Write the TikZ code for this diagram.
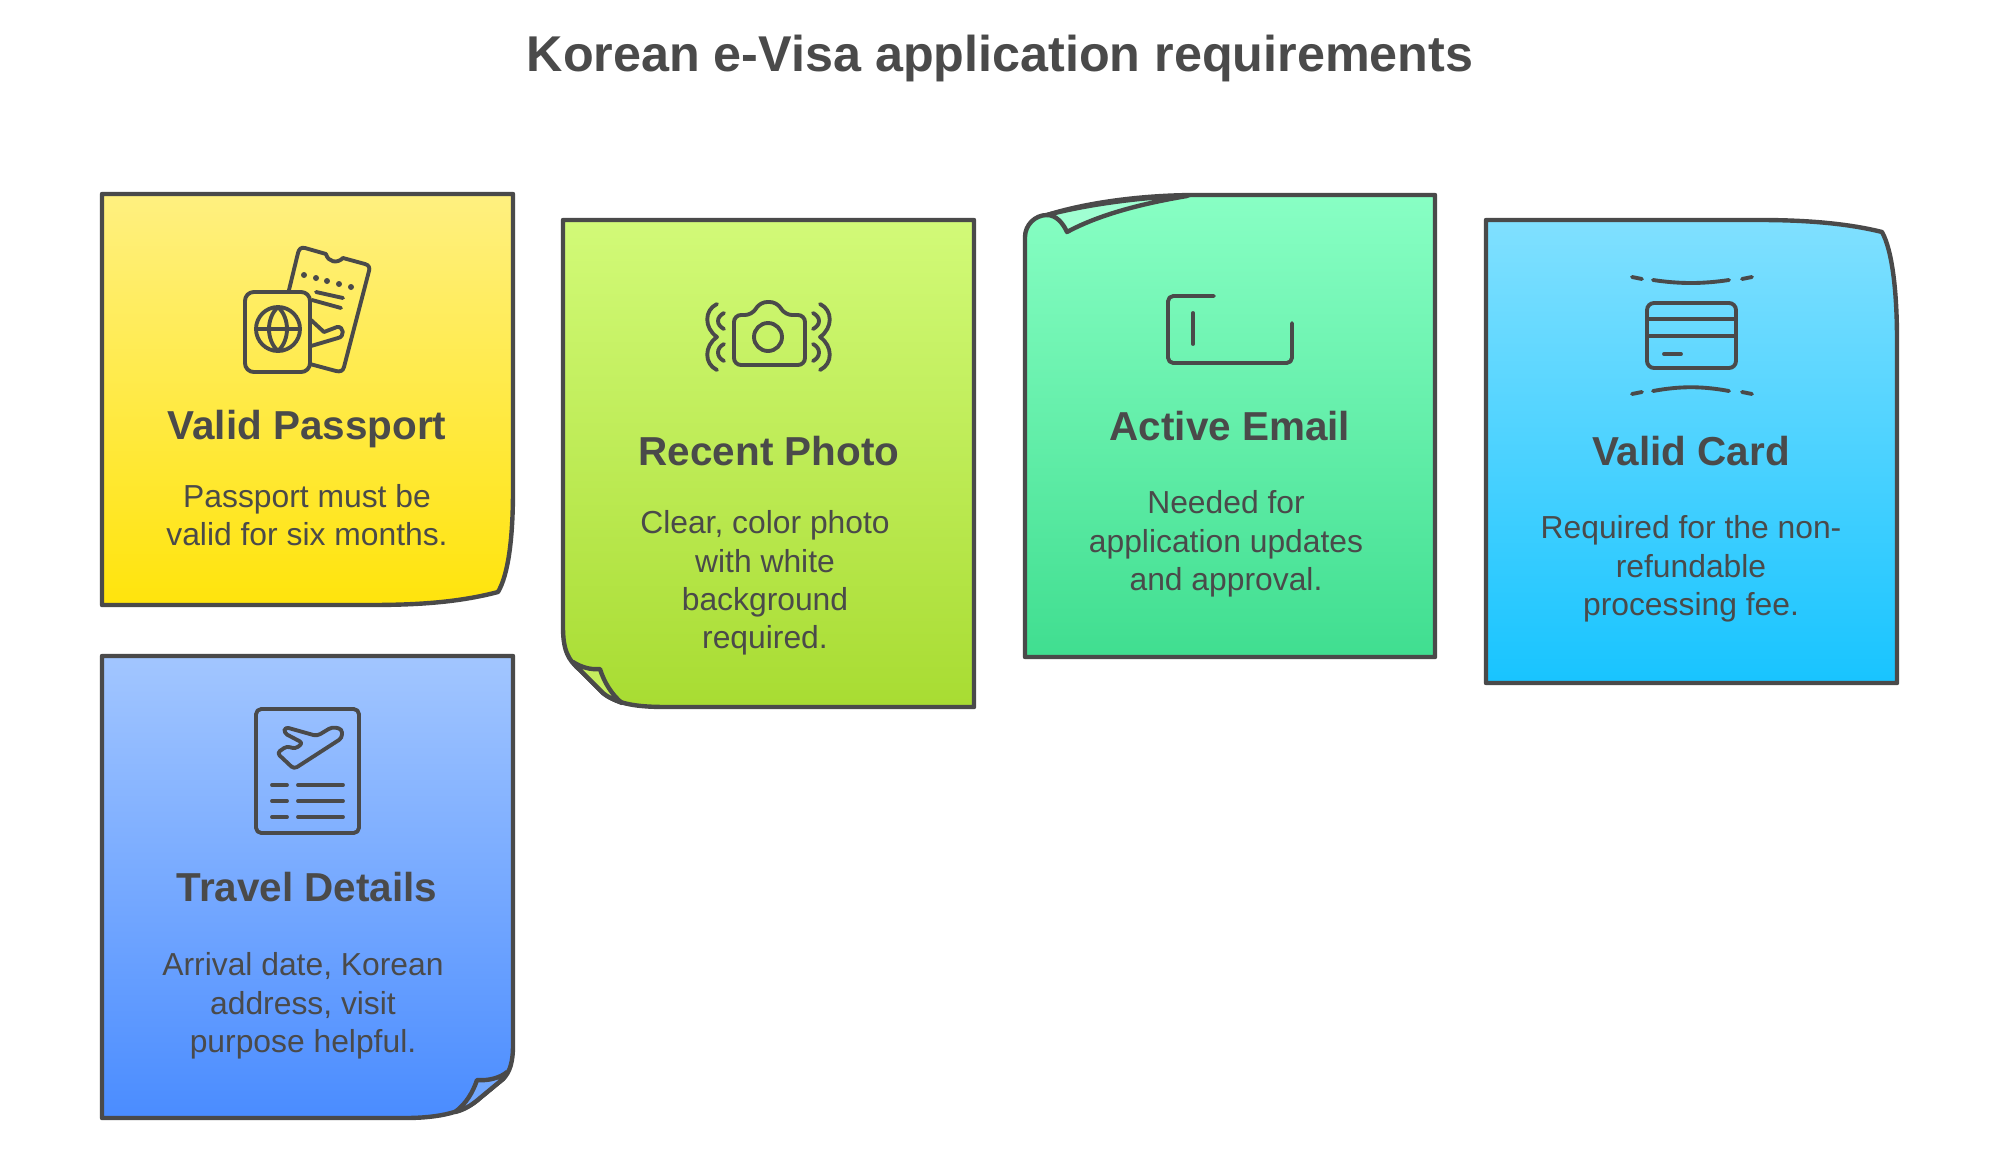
\documentclass[tikz,border=0pt]{standalone}
\usepackage{xcolor}
\usepackage{fontspec}
\setmainfont{Liberation Sans}
\usetikzlibrary{positioning}
\definecolor{inkgray}{HTML}{4A4A4A}
\definecolor{passtop}{HTML}{FFF080}
\definecolor{passbot}{HTML}{FFE40C}
\definecolor{phototop}{HTML}{D2FA78}
\definecolor{photobot}{HTML}{A8DC32}
\definecolor{photofold}{HTML}{C6EE5E}
\definecolor{mailtop}{HTML}{88FFC4}
\definecolor{mailbot}{HTML}{40DE90}
\definecolor{mailfold}{HTML}{A0FFD2}
\definecolor{cardtop}{HTML}{80E0FF}
\definecolor{cardbot}{HTML}{18C4FF}
\definecolor{traveltop}{HTML}{A2C6FF}
\definecolor{travelbot}{HTML}{4A8CFF}
\definecolor{travelfold}{HTML}{72A8FF}
\tikzset{
    cardline/.style={draw=inkgray, line width=1.25pt, line join=round},
    iconline/.style={draw=inkgray, line width=1.1pt, line cap=round, line join=round},
    titletext/.style={text=inkgray, font=\fontsize{14.3}{17}\selectfont\bfseries},
    headtext/.style={text=inkgray, anchor=base, font=\fontsize{11.5}{13}\selectfont\bfseries},
    bodytext/.style={text=inkgray, align=center, font=\fontsize{9.05}{10.9}\selectfont},
}
\begin{document}
\begin{tikzpicture}[x=0.01cm, y=-0.01cm]
            \path[fill=white, use as bounding box] (0,0) rectangle (1999,1166);
            \node[titletext] at (1000,58) (title) {Korean e-Visa application requirements};

            % passport
            \draw[cardline, top color=passtop, bottom color=passbot] (102,194) -- (513,194) -- (513,490) .. controls (513,540) and (508,575) .. (498,592) .. controls (460,602) and (420,605) .. (370,605) -- (102,605) -- cycle;
            \node[headtext] at (307,439) (passporthead) {Valid Passport};
            \node[bodytext] at (307,515) (passportbody) {Passport must be\\valid for six months.};
            \draw[iconline] (289,290) -- (298,253) .. controls (299,249) and (301,247) .. (305,248) -- (326,254) .. controls (328,262) and (337,264) .. (343,258) -- (365,264) .. controls (369,265) and (370,268) .. (369,271) -- (344,367) .. controls (343,371) and (340,372) .. (336,371) -- (310,364);
            \draw[iconline, rounded corners=2.5pt] (245,292) rectangle (310,372);
            \draw[iconline] (278,329) circle (22);
            \draw[iconline] (256,329) -- (300,329) (278,307) .. controls (266,318) and (266,340) .. (278,351) (278,307) .. controls (290,318) and (290,340) .. (278,351);
            \foreach \px/\py in {304/275,316/278,327/281,339/284,351/287}
                \fill[inkgray] (\px,\py) circle (3);
            \draw[iconline] (316,292) -- (343,298) (312,300) -- (341,308);
            \draw[iconline] (311,320) -- (324,332) -- (337,327) .. controls (344,326) and (345,337) .. (338,338) -- (311,346);

            % photo
            \draw[cardline, top color=phototop, bottom color=photobot] (563,220) -- (974,220) -- (974,707) -- (667,707) .. controls (640,707) and (618,705) .. (603,693) -- (580,670) .. controls (568,660) and (563,650) .. (563,627) -- cycle;
            \draw[cardline, fill=photofold] (573,662) .. controls (581,667) and (590,670) .. (600,669) .. controls (604,682) and (612,695) .. (622,703) .. controls (615,700) and (609,698) .. (603,693) -- (580,670) .. controls (577,668) and (575,665) .. (573,662) -- cycle;
            \node[headtext] at (769,465) (photohead) {Recent Photo};
            \node[bodytext] at (765,583) (photobody) {Clear, color photo\\with white\\background\\required.};
            \draw[iconline, rounded corners=2pt] (734,365) -- (734,315) -- (752,315) -- (760,302) -- (777,302) -- (785,315) -- (805,315) -- (805,365) -- cycle;
            \draw[iconline] (768,337) circle (14);
            \foreach \sx/\dr in {717/-1,820/1} {
                \draw[iconline] (\sx,304) .. controls (\sx+13*\dr,310) and (\sx+13*\dr,328) .. (\sx,337) .. controls (\sx+13*\dr,346) and (\sx+13*\dr,364) .. (\sx,370);
            }
            \foreach \sx/\dr in {724/-1,813/1} {
                \draw[iconline] (\sx,313) .. controls (\sx+8*\dr,317) and (\sx+8*\dr,325) .. (\sx,329);
                \draw[iconline] (\sx,344) .. controls (\sx+8*\dr,348) and (\sx+8*\dr,357) .. (\sx,361);
            }

            % email
            \draw[cardline, top color=mailtop, bottom color=mailbot] (1197,195) -- (1435,195) -- (1435,657) -- (1025,657) -- (1025,237) .. controls (1025,225) and (1035,215) .. (1047,215) .. controls (1085,203) and (1140,195) .. (1197,195) -- cycle;
            \draw[cardline, fill=mailfold] (1047,215) .. controls (1056,215) and (1063,223) .. (1067,232) .. controls (1100,214) and (1145,203) .. (1187,196) .. controls (1140,197) and (1085,205) .. (1047,215) -- cycle;
            \node[headtext] at (1230,440) (emailhead) {Active Email};
            \node[bodytext] at (1226,544) (emailbody) {Needed for\\application updates\\and approval.};
            \draw[iconline, rounded corners=1.5pt] (1214,296) -- (1168,296) -- (1168,363) -- (1292,363) -- (1292,323);
            \draw[iconline] (1193,313) -- (1193,344);

            % card
            \draw[cardline, top color=cardtop, bottom color=cardbot] (1486,220) -- (1760,220) .. controls (1810,220) and (1850,224) .. (1882,232) .. controls (1892,250) and (1897,290) .. (1897,340) -- (1897,683) -- (1486,683) -- cycle;
            \node[headtext] at (1691,465) (cardhead) {Valid Card};
            \node[bodytext] at (1691,569) (cardbody) {Required for the non-\\refundable\\processing fee.};
            \draw[iconline, rounded corners=2pt] (1647,303) rectangle (1736,368);
            \draw[iconline] (1647,319) -- (1736,319) (1647,336) -- (1736,336) (1664,354) -- (1681,354);
            \draw[iconline] (1653,280) .. controls (1680,284) and (1702,284) .. (1729,280) (1632,277) -- (1642,279) (1742,279) -- (1752,277);
            \draw[iconline] (1653,391) .. controls (1680,386) and (1702,386) .. (1729,391) (1632,394) -- (1642,392) (1742,392) -- (1752,394);

            % travel
            \draw[cardline, top color=traveltop, bottom color=travelbot] (102,656) -- (513,656) -- (513,1045) .. controls (513,1062) and (510,1072) .. (503,1079) -- (480,1098) .. controls (465,1112) and (440,1118) .. (405,1118) -- (102,1118) -- cycle;
            \draw[cardline, fill=travelfold] (507,1072) .. controls (500,1078) and (488,1081) .. (477,1080) .. controls (473,1092) and (466,1104) .. (455,1112) .. controls (464,1110) and (472,1105) .. (480,1098) -- (503,1079) .. controls (505,1077) and (506,1075) .. (507,1072) -- cycle;
            \node[headtext] at (307,901) (travelhead) {Travel Details};
            \node[bodytext] at (303,1006) (travelbody) {Arrival date, Korean\\address, visit\\purpose helpful.};
            \draw[iconline, rounded corners=1.5pt] (256,709) rectangle (359,833);
            \draw[iconline, rounded corners=1pt] (285,727) -- (317,736) -- (332,727) -- (342,729) -- (342,738) -- (294,769) -- (277,753) -- (287,746) -- (295,749) -- (303,743) -- (284,733) -- cycle;
            \foreach \ly in {785,801,817} {
                \draw[iconline] (272,\ly) -- (287,\ly);
                \draw[iconline] (298,\ly) -- (343,\ly);
            }
        \end{tikzpicture}
\end{document}
